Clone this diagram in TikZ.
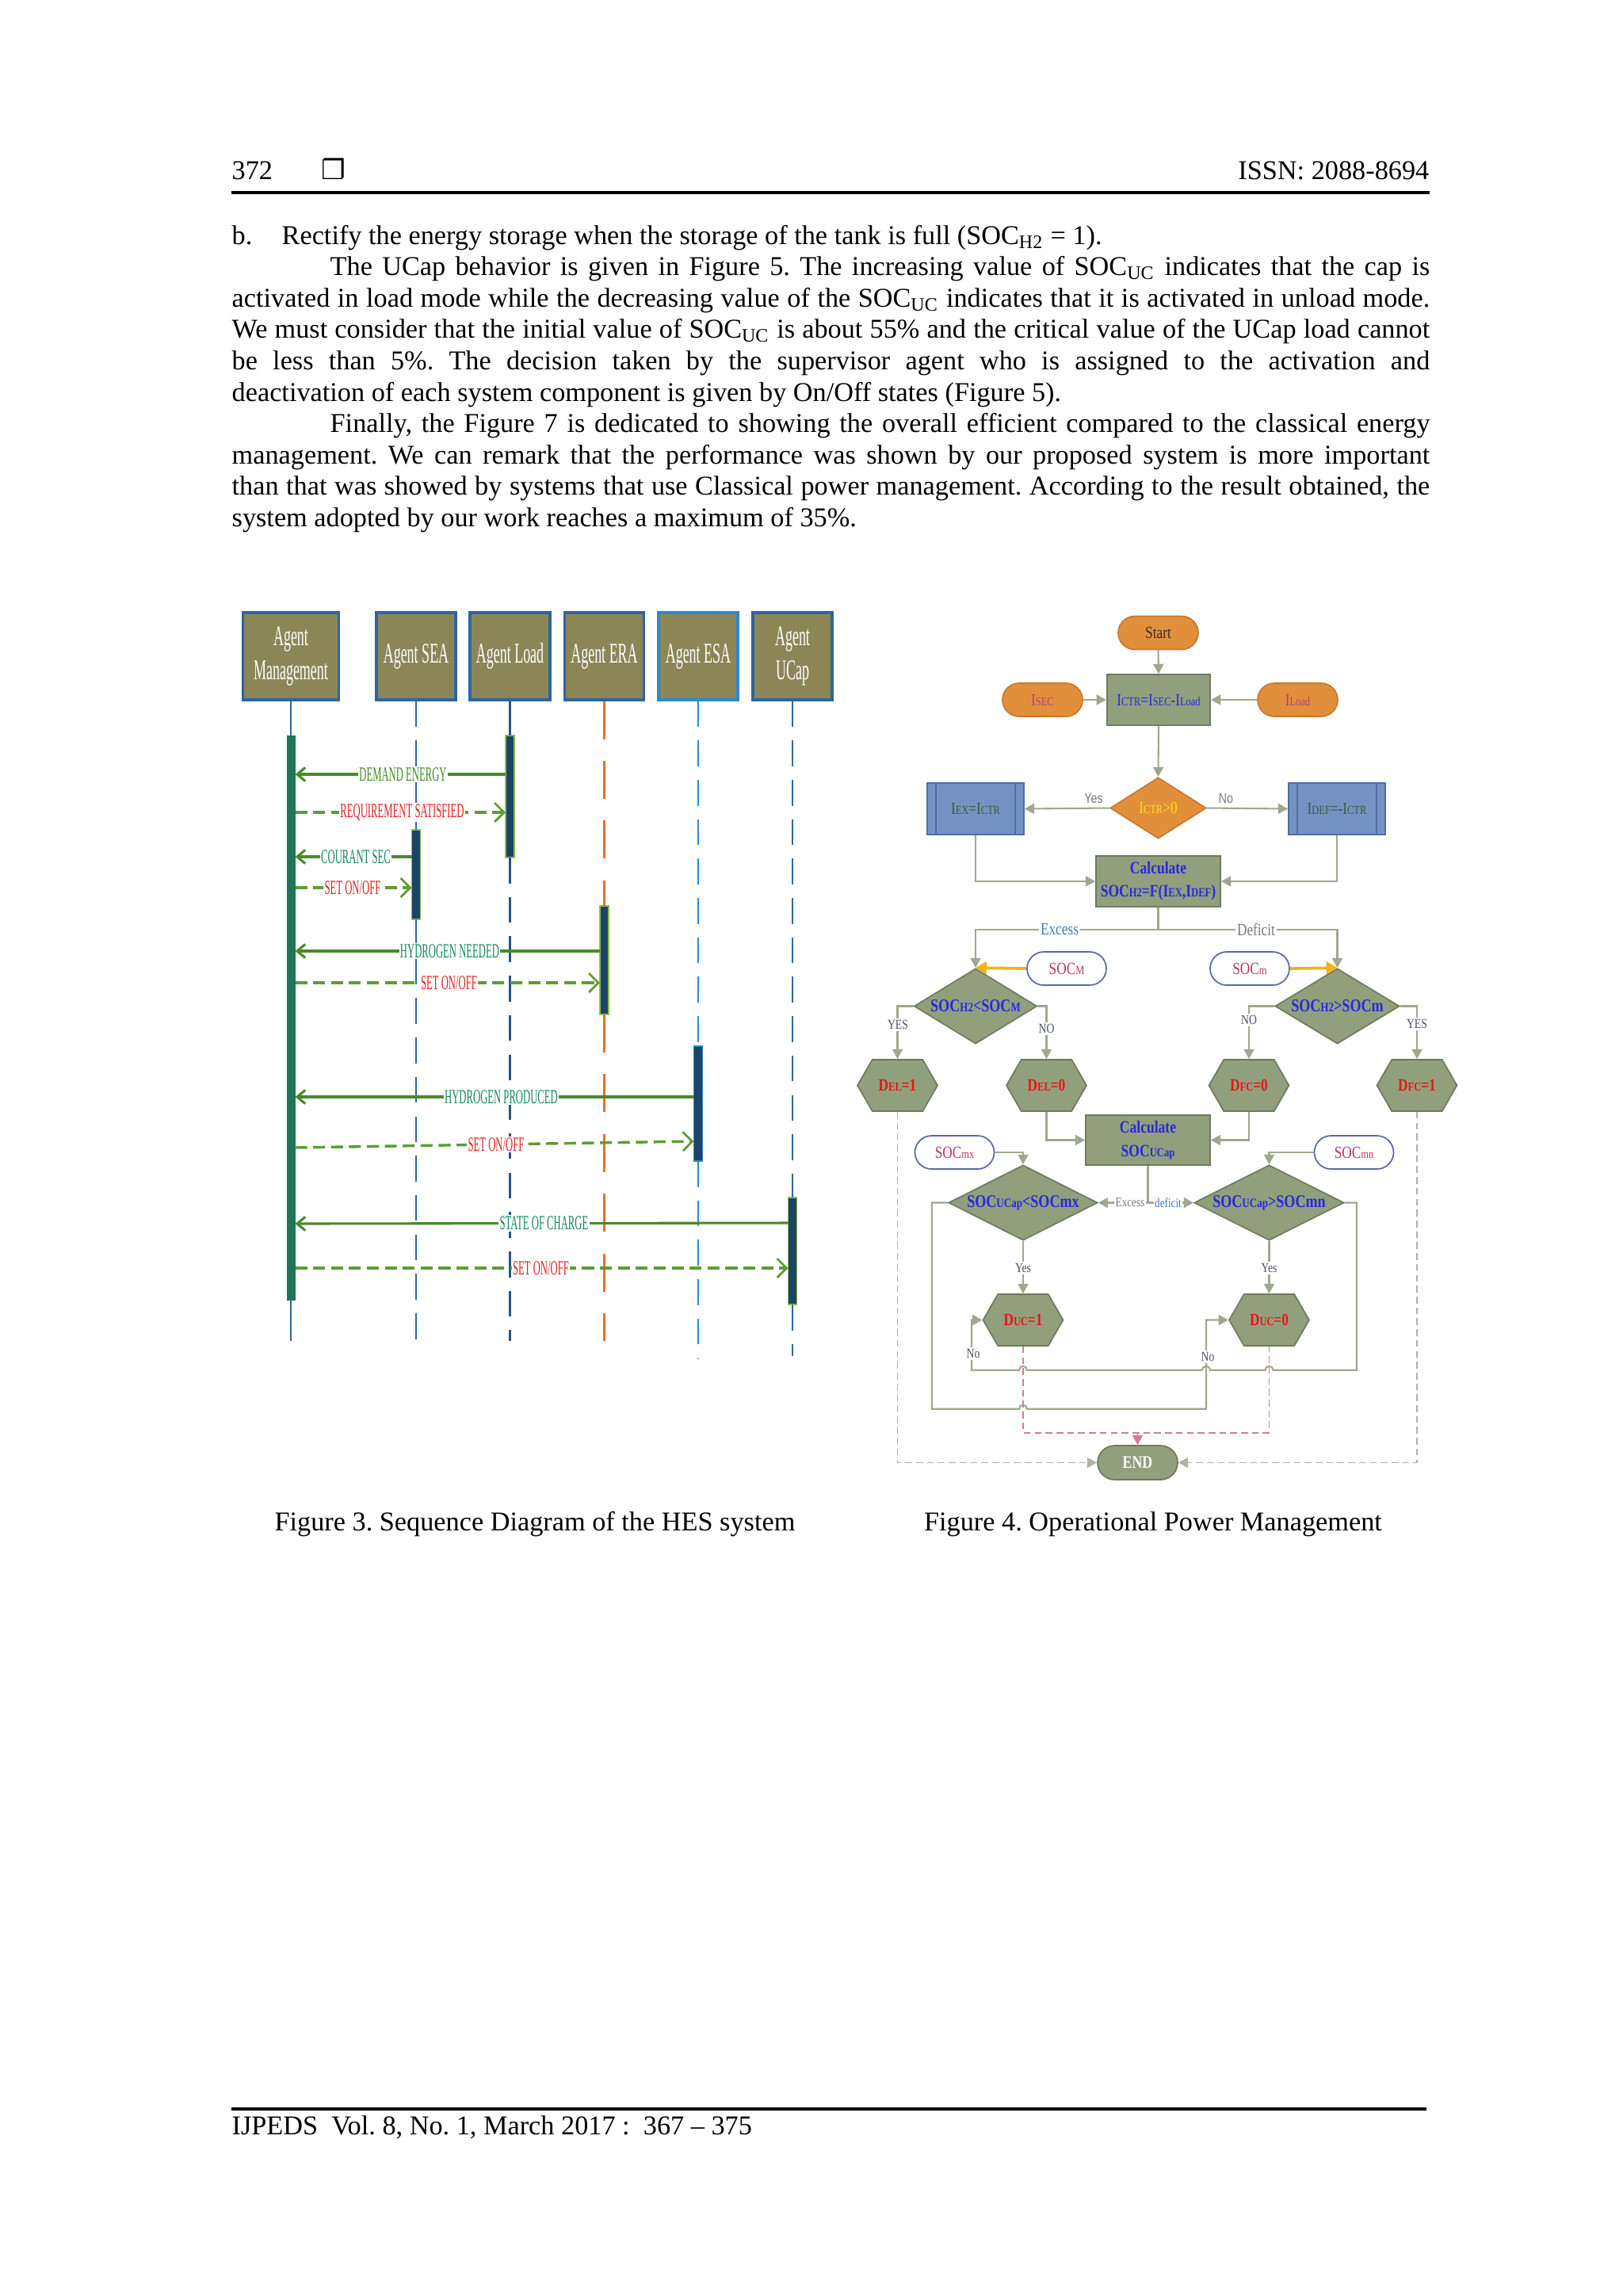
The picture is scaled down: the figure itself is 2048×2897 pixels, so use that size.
\documentclass[tikz,border=0pt]{standalone}
\usepackage{fontspec}
\usepackage{graphicx}
\setmainfont{Liberation Serif}
\newfontfamily\seqfont[FakeStretch=0.5]{Liberation Serif}
\newfontfamily\fcfont[FakeStretch=0.8]{Liberation Serif}
\newfontfamily\fcsans[FakeStretch=0.8]{Liberation Sans}
\newfontfamily\dingfont{DejaVu Sans}
\usetikzlibrary{arrows.meta,shapes.geometric,shapes.misc,shapes.symbols,calc}
\newcommand\sk[1]{\scalebox{0.72}{#1}}
\def\U{0.10254mm}
\frenchspacing
% figure 3 colours
\definecolor{agentfill}{HTML}{8C8656}
\definecolor{agentborder}{HTML}{2B66A0}
\definecolor{lifeblue}{HTML}{2D6A9A}
\definecolor{lifedark}{HTML}{24557F}
\definecolor{lifeorange}{HTML}{E8702A}
\definecolor{lifelight}{HTML}{2B8AD0}
\definecolor{barteal}{HTML}{1F7558}
\definecolor{barnavy}{HTML}{1C4466}
\definecolor{barlime}{HTML}{8DC04A}
\definecolor{msggreen}{HTML}{4A8A2A}
\definecolor{msgdash}{HTML}{5C9E32}
\definecolor{lblgreen}{HTML}{3F8A25}
\definecolor{lblteal}{HTML}{13875C}
\definecolor{lblred}{HTML}{E02020}
% figure 4 colours
\definecolor{orangefill}{HTML}{E28F3C}
\definecolor{orangeborder}{HTML}{C9782C}
\definecolor{boxfill}{HTML}{929F7D}
\definecolor{boxborder}{HTML}{6F7A5D}
\definecolor{bluefill}{HTML}{7493C4}
\definecolor{blueborder}{HTML}{4F6FA3}
\definecolor{fcline}{HTML}{9FA88F}
\definecolor{fcblue}{HTML}{2828E0}
\definecolor{pillborder}{HTML}{5B66A8}
\definecolor{pilltext}{HTML}{C2305F}
\definecolor{hexred}{HTML}{E81515}
\definecolor{goldarrow}{HTML}{F2B318}
\definecolor{pinkdash}{HTML}{D47A98}
\definecolor{graydash}{HTML}{B0B0A6}
\definecolor{isectext}{HTML}{B0407E}
\definecolor{ctrtext}{HTML}{FFE000}
\definecolor{iextext}{HTML}{3E5A32}
\definecolor{yesgray}{HTML}{7A7A7A}
\definecolor{excessblue}{HTML}{3A7ACC}
\definecolor{labelgray}{HTML}{4A5260}
\definecolor{starttext}{HTML}{3A2A18}
\begin{document}
\begin{tikzpicture}[x=0.10254mm, y=-0.10254mm,
  bodyline/.style={anchor=base west, inner sep=0, font=\fontsize{10}{11.5}\selectfont},
  agent/.style={rectangle, draw=agentborder, line width=0.9pt, fill=agentfill, minimum height=110*\U, inner sep=0, text=white, align=center, font=\seqfont\fontsize{10.5}{12.3}\selectfont},
  actbar/.style={rectangle, minimum width=11*\U, inner sep=0, outer sep=0, line width=0.4pt},
  lifesolid/.style={line width=0.8pt},
  lifedash/.style={line width=0.8pt, dash pattern=on 9.5pt off 5pt},
  lifedashlong/.style={line width=0.8pt, dash pattern=on 14pt off 8pt},
  msgsolid/.style={draw=msggreen, line width=0.9pt, -{Straight Barb[length=3pt,width=5pt,line width=0.9pt]}},
  msgdashed/.style={draw=msgdash, line width=1pt, dash pattern=on 4.4pt off 2.2pt, -{Straight Barb[length=3.5pt,width=7pt,line width=0.8pt,line cap=butt]}},
  msglbl/.style={fill=white, inner xsep=0.4pt, inner ysep=0.5pt, font=\seqfont\fontsize{7.4}{8}\selectfont},
  fcbox/.style={rectangle, draw=boxborder, fill=boxfill, line width=0.5pt, inner sep=0, align=center, font=\fcfont\fontsize{6.3}{8}\selectfont},
  bluebox/.style={rectangle, draw=blueborder, fill=bluefill, line width=0.5pt, inner sep=0, minimum width=122*\U, minimum height=65*\U, text=iextext, font=\fcfont\fontsize{6.3}{8}\selectfont},
  pillO/.style={rounded rectangle, draw=orangeborder, fill=orangefill, line width=0.5pt, minimum width=101*\U, minimum height=42*\U, inner sep=0, font=\fcfont\fontsize{6.3}{8}\selectfont},
  pillW/.style={rounded rectangle, draw=pillborder, fill=white, line width=0.5pt, minimum width=100*\U, minimum height=42*\U, inner sep=0, text=pilltext, font=\fcfont\fontsize{6.3}{8}\selectfont},
  hexs/.style={signal, signal to=east and west, signal pointer angle=120, draw=boxborder, fill=boxfill, line width=0.5pt, minimum width=101*\U, minimum height=65*\U, inner sep=0, text=hexred, font=\fcfont\bfseries\fontsize{6.3}{8}\selectfont},
  dia/.style={diamond, draw=boxborder, fill=boxfill, line width=0.5pt, inner sep=0, text=fcblue, font=\fcfont\bfseries\fontsize{6.6}{8}\selectfont},
  fcl/.style={draw=fcline, line width=0.6pt},
  fca/.style={draw=fcline, line width=0.6pt, -{Triangle[length=3.6pt,width=3.8pt]}},
  golda/.style={draw=goldarrow, line width=1.1pt, -{Triangle[length=4pt,width=4.5pt]}},
  pinkd/.style={draw=pinkdash, line width=0.5pt, dash pattern=on 2.5pt off 1.5pt},
  grayd/.style={draw=graydash, line width=0.55pt, dash pattern=on 2.5pt off 1.5pt},
  yesno/.style={inner sep=0.6pt, fill=white, text=labelgray, font=\fcfont\fontsize{5}{6}\selectfont},
  topyn/.style={inner sep=0, text=yesgray, font=\fcsans\fontsize{5.2}{6}\selectfont}
]
\fill[white] (0,0) rectangle (2048,2897);
\useasboundingbox (0,0) rectangle (2048,2897);

% ---------------- header ----------------
\node[bodyline] (pgnum) at (292,226) {372};
\node[anchor=base, inner sep=0, font=\dingfont\fontsize{10}{12}\selectfont] (sqbox) at (421,226) {❐};
\node[anchor=base east, inner sep=0, font=\fontsize{10}{12}\selectfont] (issn) at (1804,226) {ISSN: 2088-8694};
\coordinate (hrl) at (292,243);
\coordinate (hrr) at (1804,243);
\draw[line width=1.2pt] (hrl) -- (hrr);

% ---------------- body text ----------------
\node[bodyline] (t1) at (292,308) {\makebox[6.46mm][l]{b.}Rectify the energy storage when the storage of the tank is full (SOC\textsubscript{H2} = 1).};
\node[bodyline] (t2) at (416,347.6) {\makebox[142.3mm][s]{The UCap behavior is given in Figure 5. The increasing value of SOC\textsubscript{UC} indicates that the cap is}};
\node[bodyline] (t3) at (292,387.2) {\makebox[155mm][s]{activated in load mode while the decreasing value of the SOC\textsubscript{UC} indicates that it is activated in unload mode.}};
\node[bodyline] (t4) at (292,426.8) {\makebox[155mm][s]{We must consider that the initial value of SOC\textsubscript{UC} is about 55\% and the critical value of the UCap load cannot}};
\node[bodyline] (t5) at (292,466.4) {\makebox[155mm][s]{be less than 5\%. The decision taken by the supervisor agent who is assigned to the activation and}};
\node[bodyline] (t6) at (292,506) {deactivation of each system component is given by On/Off states (Figure 5).};
\node[bodyline] (t7) at (416,545.6) {\makebox[142.3mm][s]{Finally, the Figure 7 is dedicated to showing the overall efficient compared to the classical energy}};
\node[bodyline] (t8) at (292,585.2) {\makebox[155mm][s]{management. We can remark that the performance was shown by our proposed system is more important}};
\node[bodyline] (t9) at (292,624.8) {\makebox[155mm][s]{than that was showed by systems that use Classical power management. According to the result obtained, the}};
\node[bodyline] (t10) at (292,664.4) {system adopted by our work reaches a maximum of 35\%.};

% ---------------- Figure 3: sequence diagram ----------------
\node[agent, minimum width=121*\U] (am) at (367,828) {Agent\\Management};
\node[agent, minimum width=100*\U] (asea) at (525,828) {Agent SEA};
\node[agent, minimum width=101*\U] (aload) at (643.5,828) {Agent Load};
\node[agent, minimum width=100*\U] (aera) at (762.5,828) {Agent ERA};
\node[agent, minimum width=100*\U, draw=lifelight] (aesa) at (881,828) {Agent ESA};
\node[agent, minimum width=100*\U] (aucap) at (1000,828) {Agent\\UCap};

\node[actbar, fill=barteal, minimum height=713*\U] (amb) at (367,1284.5) {};
\node[actbar, fill=barnavy, draw=barlime, minimum height=154*\U] (lb) at (643.5,1005) {};
\node[actbar, fill=barnavy, draw=barlime, minimum height=113*\U] (sb) at (525,1103.5) {};
\node[actbar, fill=barnavy, draw=barlime, minimum height=137*\U] (eb) at (762.5,1211.5) {};
\node[actbar, fill=barnavy, draw=lifelight, minimum height=145*\U] (esb) at (881,1392.5) {};
\node[actbar, fill=barnavy, draw=barlime, minimum height=135*\U] (ub) at (1000,1578.5) {};

\coordinate (amend) at (367,1692);
\coordinate (seaend) at (525,1698);
\coordinate (loadend) at (643.5,1692);
\coordinate (eraend) at (762.5,1692);
\coordinate (esaend) at (881,1714);
\coordinate (ucapend) at (1000,1711);

\draw[lifesolid, draw=lifeblue] (am.south) -- (amb.north);
\draw[lifesolid, draw=lifeblue] (amb.south) -- (amend);
\draw[lifedash, draw=lifeblue] (asea.south) -- (sb.north);
\draw[lifedash, draw=lifeblue] (sb.south) -- (seaend);
\draw[lifesolid, draw=lifedark] (aload.south) -- (lb.north);
\draw[lifedash, draw=lifedark] (lb.south) -- (loadend);
\draw[lifedashlong, draw=lifeorange] (aera.south) -- (eb.north);
\draw[lifedashlong, draw=lifeorange] (eb.south) -- (eraend);
\draw[lifedash, draw=lifelight] (aesa.south) -- (esb.north);
\draw[lifedash, draw=lifelight] (esb.south) -- (esaend);
\draw[lifedash, draw=lifeblue] (aucap.south) -- (ub.north);
\draw[lifedash, draw=lifeblue] (ub.south) -- (ucapend);

% messages
\draw[msgsolid] (lb.west |- 0,977) -- (amb.east |- 0,977);
\node[msglbl, text=lblgreen] (m1) at (508.5,977) {DEMAND ENERGY};
\draw[msgdashed] (amb.east |- 0,1025) -- (lb.west |- 0,1025);
\node[msglbl, text=lblred] (m2) at (507.5,1025) {REQUIREMENT SATISFIED};
\draw[msgsolid] (sb.west |- 0,1081) -- (amb.east |- 0,1081);
\node[msglbl, text=lblteal] (m3) at (449,1081) {COURANT SEC};
\draw[msgdashed] (amb.east |- 0,1120) -- (sb.west |- 0,1120);
\node[msglbl, text=lblred] (m4) at (445,1120) {SET ON/OFF};
\draw[msgsolid] (eb.west |- 0,1200) -- (amb.east |- 0,1200);
\node[msglbl, text=lblteal] (m5) at (567.5,1200) {HYDROGEN NEEDED};
\draw[msgdashed] (amb.east |- 0,1240) -- (eb.west |- 0,1240);
\node[msglbl, text=lblred] (m6) at (566.5,1240) {SET ON/OFF};
\draw[msgsolid] (esb.west |- 0,1384) -- (amb.east |- 0,1384);
\node[msglbl, text=lblteal] (m7) at (632.5,1384) {HYDROGEN PRODUCED};
\draw[msgdashed] (amb.east |- 0,1448) -- (esb.west |- 0,1440);
\node[msglbl, text=lblred] (m8) at (626,1444) {SET ON/OFF};
\draw[msgsolid] (ub.west |- 0,1543) -- (amb.east |- 0,1544);
\node[msglbl, text=lblteal] (m9) at (686.5,1543.5) {STATE OF CHARGE};
\draw[msgdashed] (amb.east |- 0,1600) -- (ub.west |- 0,1600);
\node[msglbl, text=lblred] (m10) at (682.5,1600) {SET ON/OFF};

% ---------------- Figure 4: flowchart ----------------
\node[pillO, text=starttext] (start) at (1461.5,798.5) {Start};
\node[pillO, text=isectext] (isec) at (1315.5,883) {I\sk{SEC}};
\node[fcbox, minimum width=130.5*\U, minimum height=64*\U, text=fcblue] (ictr) at (1462,883) {I\sk{CTR}=I\sk{SEC}-I\sk{Load}};
\node[pillO, text=isectext] (iload) at (1637.5,883) {I\sk{Load}};
\node[diamond, draw=orangeborder, fill=orangefill, line width=0.5pt, inner sep=0, minimum width=121*\U, minimum height=77*\U, aspect=1.57, text=ctrtext, font=\fcfont\fontsize{6.3}{8}\selectfont] (cdia) at (1461.5,1019.5) {I\sk{CTR}>0};
\node[bluebox] (iex) at (1231,1020.5) {I\sk{EX}=I\sk{CTR}};
\node[bluebox] (idef) at (1687,1020.5) {I\sk{DEF}=-I\sk{CTR}};
\draw[draw=blueborder, line width=0.5pt] ([xshift=12*\U]iex.north west) -- ([xshift=12*\U]iex.south west);
\draw[draw=blueborder, line width=0.5pt] ([xshift=-12*\U]iex.north east) -- ([xshift=-12*\U]iex.south east);
\draw[draw=blueborder, line width=0.5pt] ([xshift=12*\U]idef.north west) -- ([xshift=12*\U]idef.south west);
\draw[draw=blueborder, line width=0.5pt] ([xshift=-12*\U]idef.north east) -- ([xshift=-12*\U]idef.south east);
\node[fcbox, minimum width=157*\U, minimum height=64*\U, text=fcblue, font=\fcfont\bfseries\fontsize{6.4}{8.5}\selectfont] (calc) at (1461.5,1112) {Calculate\\SOC\sk{H2}=F(I\sk{EX},I\sk{DEF})};

\node[pillW] (socM) at (1346,1222) {SOC\sk{M}};
\node[pillW] (socm) at (1577,1222) {SOC\sk{m}};
\node[dia, minimum width=155*\U, minimum height=95*\U, aspect=1.63] (dl) at (1231,1269.5) {SOC\sk{H2}<SOC\sk{M}};
\node[dia, minimum width=157*\U, minimum height=95*\U, aspect=1.65] (dr) at (1687.5,1269.5) {SOC\sk{H2}>SOCm};

\node[hexs] (del1) at (1132.5,1369.5) {D\sk{EL}=1};
\node[hexs] (del0) at (1320.5,1369.5) {D\sk{EL}=0};
\node[hexs] (dfc0) at (1576,1369.5) {D\sk{FC}=0};
\node[hexs] (dfc1) at (1788,1369.5) {D\sk{FC}=1};

\node[fcbox, minimum width=157*\U, minimum height=63*\U, text=fcblue, font=\fcfont\bfseries\fontsize{6.4}{8.5}\selectfont] (cuc) at (1448.5,1438.5) {Calculate\\SOC\sk{UCap}};
\node[pillW] (socmx) at (1204.5,1454) {SOC\sk{mx}};
\node[pillW] (socmn) at (1708.5,1454) {SOC\sk{mn}};
\node[dia, minimum width=188*\U, minimum height=95*\U, aspect=1.98] (dll) at (1291,1517.5) {SOC\sk{UCap}<SOCmx};
\node[dia, minimum width=189*\U, minimum height=95*\U, aspect=1.99] (dlr) at (1601.5,1517.5) {SOC\sk{UCap}>SOCmn};

\node[hexs] (duc1) at (1291,1665.5) {D\sk{UC}=1};
\node[hexs] (duc0) at (1601.5,1665.5) {D\sk{UC}=0};
\node[rounded rectangle, draw=boxborder, fill=boxfill, line width=0.5pt, minimum width=101*\U, minimum height=43*\U, inner sep=0, text=white, font=\fcfont\bfseries\fontsize{6.5}{8}\selectfont] (end) at (1435.5,1845.5) {END};

% connectors
\draw[fca] (start.south) -- (ictr.north);
\draw[fca] (isec.east) -- (ictr.west);
\draw[fca] (iload.west) -- (ictr.east);
\draw[fca] (ictr.south) -- (cdia.north);
\draw[fca] (cdia.west) -- (iex.east);
\draw[fca] (cdia.east) -- (idef.west);
\node[topyn] (lyes) at (1380,1007) {Yes};
\node[topyn] (lno) at (1547,1007) {No};
\draw[fca] (iex.south) |- (calc.west);
\draw[fca] (idef.south) |- (calc.east);

\coordinate (split) at (1461.5,1173);
\draw[fcl] (calc.south) -- (split);
\draw[fca] (split) -| (dl.north);
\draw[fca] (split) -| (dr.north);
\node[inner sep=0.6pt, fill=white, text=excessblue, font=\fcfont\fontsize{6.3}{8}\selectfont] (exlbl) at (1337,1173) {Excess};
\node[inner sep=0.6pt, fill=white, text=yesgray, font=\fcfont\fontsize{6.3}{8}\selectfont] (deflbl) at (1585,1173) {Deficit};

\draw[golda] (socM.west) -- (dl.north);
\draw[golda] (socm.east) -- (dr.north);

\draw[fca] (dl.west) -| (del1.north);
\draw[fca] (dl.east) -| (del0.north);
\draw[fca] (dr.west) -| (dfc0.north);
\draw[fca] (dr.east) -| (dfc1.north);
\node[yesno] (y1) at (1133,1293) {YES};
\node[yesno] (n1) at (1320.5,1298) {NO};
\node[yesno] (n2) at (1576,1287) {NO};
\node[yesno] (y2) at (1788,1292) {YES};

\draw[fca] (del0.south) |- (cuc.west);
\draw[fca] (dfc0.south) |- (cuc.east);
\draw[fca] (socmx.east) -| (dll.north);
\draw[fca] (socmn.west) -| (dlr.north);

\coordinate (csplit) at (1448.5,1517.5);
\draw[fcl] (cuc.south) -- (csplit);
\draw[fca] (csplit) -- (dll.east);
\draw[fca] (csplit) -- (dlr.west);
\node[inner sep=0.4pt, fill=white, text=yesgray, font=\fcfont\fontsize{4.8}{6}\selectfont] (ex2) at (1426,1517.5) {Excess};
\node[inner sep=0.4pt, fill=white, text=excessblue, font=\fcfont\fontsize{4.8}{6}\selectfont] (df2) at (1474,1517.5) {deficit};

\draw[fca] (dll.south) -- (duc1.north);
\draw[fca] (dlr.south) -- (duc0.north);
\node[yesno] (y3) at (1291,1600) {Yes};
\node[yesno] (y4) at (1601.5,1600) {Yes};

% pink dashed to END
\coordinate (pinkm) at (1435.5,1807.7);
\draw[pinkd] (duc1.south) -- (duc1.south |- pinkm) -- (duc0.south |- pinkm) -- (duc0.south);
\draw[pinkd, -{Triangle[length=3.6pt,width=3.8pt]}] (pinkm) -- (end.north);

% gray dashed to END
\draw[grayd, -{Triangle[length=3.6pt,width=3.8pt]}] (del1.south) |- (end.west);
\draw[grayd, -{Triangle[length=3.6pt,width=3.8pt]}] (dfc1.south) |- (end.east);

% No loops with hops
\coordinate (ll1) at (1176,1517.5);
\coordinate (ll2) at (1176,1777.7);
\coordinate (ll3) at (1522,1777.7);
\coordinate (ll4) at (1522,1665.5);
\draw[fca] (dll.west) -- (ll1) -- (ll2) -- (1286,1777.7) arc[start angle=180, end angle=360, radius=5] -- (ll3) -- (ll4) -- (duc0.west);
\coordinate (rl1) at (1712,1517.5);
\coordinate (rl2) at (1712,1728.7);
\coordinate (rl3) at (1226,1728.7);
\coordinate (rl4) at (1226,1665.5);
\draw[fca] (dlr.east) -- (rl1) -- (rl2) -- (1606.5,1728.7) arc[start angle=0, end angle=-180, radius=5] -- (1527,1728.7) arc[start angle=0, end angle=-180, radius=5] -- (1296,1728.7) arc[start angle=0, end angle=-180, radius=5] -- (rl3) -- (rl4) -- (duc1.west);
\node[yesno] (no3) at (1228,1708) {No};
\node[yesno] (no4) at (1524,1712) {No};

% ---------------- captions ----------------
\node[anchor=base, inner sep=0, font=\fontsize{10}{12}\selectfont] (cap3) at (675,1931) {Figure 3. Sequence Diagram of the HES system};
\node[anchor=base, inner sep=0, font=\fontsize{10}{12}\selectfont] (cap4) at (1455,1931) {Figure 4. Operational Power Management};

% ---------------- footer ----------------
\coordinate (frl) at (292,2661);
\coordinate (frr) at (1800,2661);
\draw[line width=0.9pt] (frl) -- (frr);
\node[bodyline] (foot) at (292,2693) {IJPEDS\ \ Vol. 8, No. 1, March 2017 :\ \ 367 -- 375};
\end{tikzpicture}
\end{document}
